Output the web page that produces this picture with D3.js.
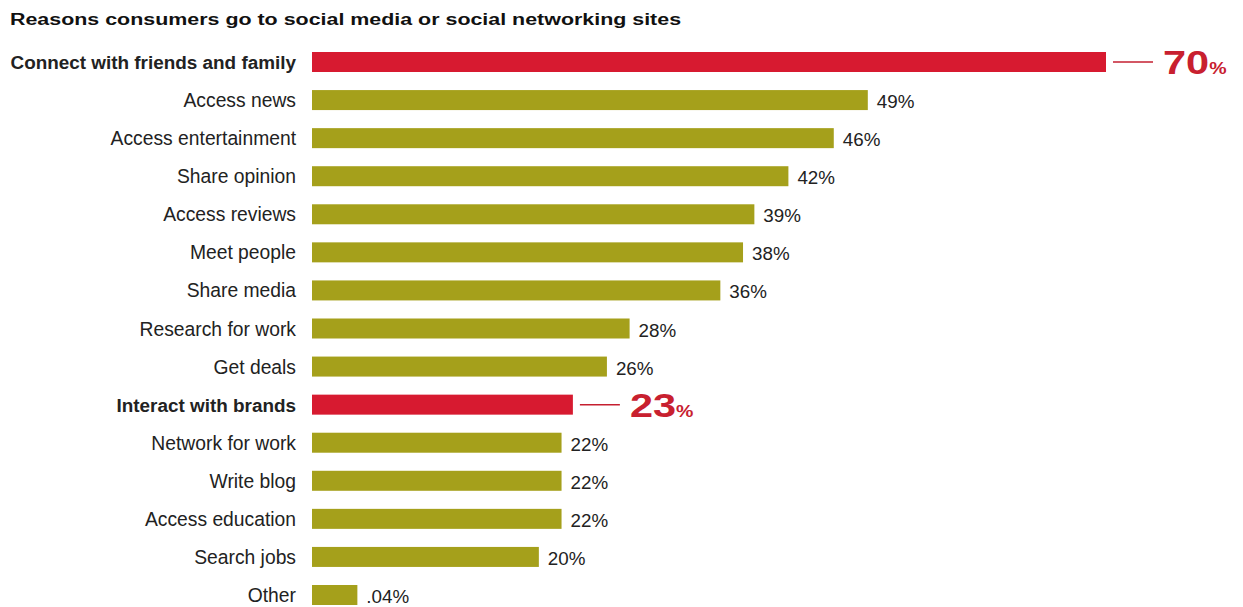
<!DOCTYPE html>
<html>
<head>
<meta charset="utf-8">
<script src="https://cdn.jsdelivr.net/npm/d3@7"></script>
<style>
  body { margin: 0; background: #fff; }
  text { font-family: "Liberation Sans", Arial, sans-serif; }
</style>
</head>
<body>
<script>
// chart data
const categories = ['Connect with friends and family', 'Access news', 'Access entertainment', 'Share opinion',
  'Access reviews', 'Meet people', 'Share media', 'Research for work', 'Get deals', 'Interact with brands',
  'Network for work', 'Write blog', 'Access education', 'Search jobs', 'Other']
const values = [70, 49, 46, 42, 39, 38, 36, 28, 26, 23, 22, 22, 22, 20, 4]
const valueLabels = ['70', '49%', '46%', '42%', '39%', '38%', '36%', '28%', '26%', '23', '22%', '22%', '22%', '20%', '.04%']
const highlighted = ['Connect with friends and family', 'Interact with brands']

const width = 1243
const height = 607

const svg = d3.select('body')
  .append('svg')
  .attr('width', width)
  .attr('height', height)

const data = categories.map((c, i) => ({ cat: c, value: values[i], label: valueLabels[i], hi: highlighted.includes(c) }))

//x scale for bar length
const xScale = d3.scaleLinear()
  .domain([0, 70])
  .range([312, 1106])

//y scale for row centers
const yScale = d3.scalePoint()
  .domain(categories)
  .range([62, 595])

const barH = 20

//title (stretched a bit, the original uses a wide bold face)
svg.append('text')
  .text('Reasons consumers go to social media or social networking sites')
  .attr('transform', 'translate(10,25) scale(1.26,1)')
  .attr('font-size', 17)
  .attr('font-weight', 'bold')
  .attr('fill', '#111')

//category labels
svg.selectAll('.cat')
  .data(data)
  .enter()
  .append('text')
  .attr('class', 'cat')
  .attr('x', 296)
  .attr('y', d => yScale(d.cat) + 7)
  .attr('text-anchor', 'end')
  .attr('font-size', d => d.hi ? 18.9 : 19.3)
  .attr('font-weight', d => d.hi ? 'bold' : 'normal')
  .attr('fill', '#222')
  .text(d => d.cat)

//bars
svg.selectAll('.bar')
  .data(data)
  .enter()
  .append('rect')
  .attr('class', 'bar')
  .attr('x', xScale(0))
  .attr('y', d => yScale(d.cat) - barH / 2)
  .attr('width', d => xScale(d.value) - xScale(0))
  .attr('height', barH)
  .attr('fill', d => d.hi ? '#d71a30' : '#a5a01b')

//normal value labels
svg.selectAll('.val')
  .data(data.filter(d => !d.hi))
  .enter()
  .append('text')
  .attr('class', 'val')
  .attr('x', d => xScale(d.value) + 9)
  .attr('y', d => yScale(d.cat) + 8)
  .attr('font-size', 18.8)
  .attr('fill', '#222')
  .text(d => d.label)

//highlighted callouts
const hi = svg.selectAll('.hi')
  .data(data.filter(d => d.hi))
  .enter()
  .append('g')
  .attr('class', 'hi')

hi.append('line')
  .attr('x1', d => xScale(d.value) + 7)
  .attr('x2', d => xScale(d.value) + 47)
  .attr('y1', d => yScale(d.cat))
  .attr('y2', d => yScale(d.cat))
  .attr('stroke', '#c51f30')
  .attr('stroke-width', 1.5)

const big = hi.append('text')
  .attr('transform', d => `translate(${xScale(d.value) + 57},${yScale(d.cat) + 12}) scale(1.22,1)`)
  .attr('font-size', 34)
  .attr('font-weight', 'bold')
  .attr('fill', '#c8202f')

big.append('tspan')
  .text(d => d.label)
big.append('tspan')
  .attr('font-size', 16)
  .text('%')
</script>
</body>
</html>
